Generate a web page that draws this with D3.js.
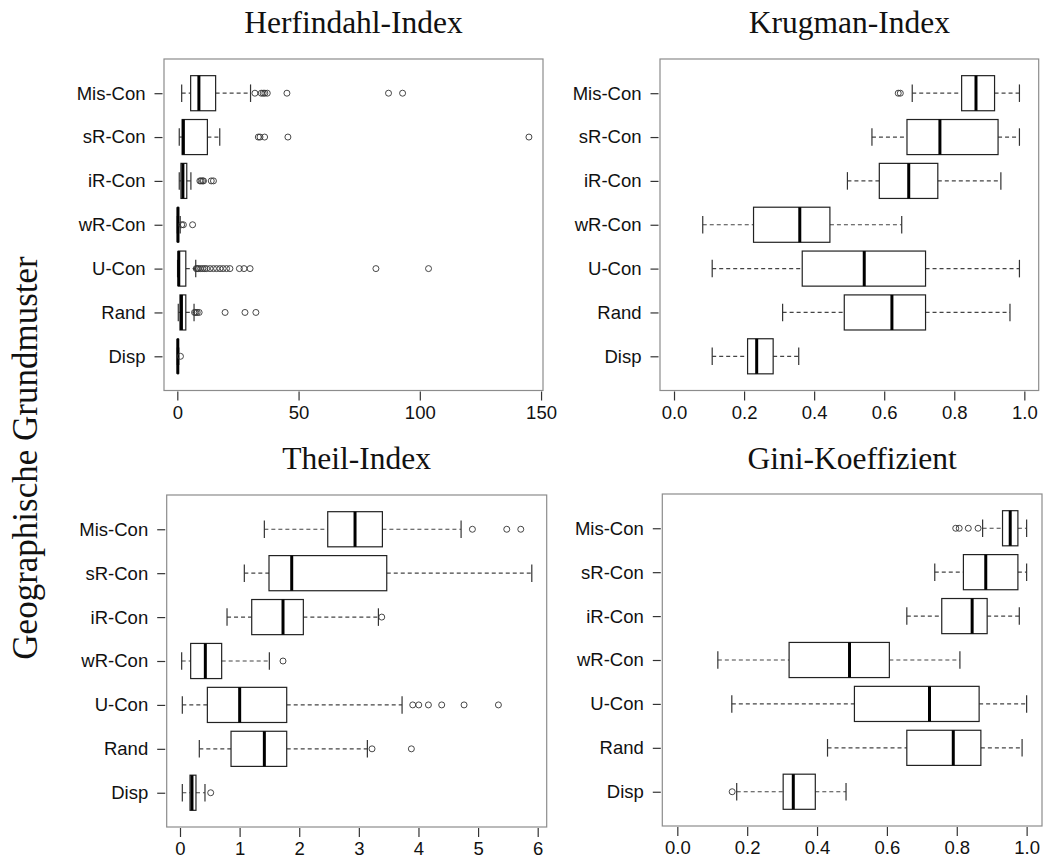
<!DOCTYPE html>
<html>
<head>
<meta charset="utf-8">
<script src="https://cdn.jsdelivr.net/npm/d3@7/dist/d3.min.js"></script>
<style>
  html, body { margin: 0; padding: 0; background: #fff; }
  svg { display: block; }
</style>
</head>
<body>
<svg id="chart" width="1043" height="860"></svg>
<script>
// Patterns, listed from top row to bottom row
const categories = ["Mis-Con", "sR-Con", "iR-Con", "wR-Con", "U-Con", "Rand", "Disp"];

// Five-number summaries per pattern: [lower whisker, Q1, median, Q3, upper whisker]
const herfindahlStats = [
  [1.8, 5.5, 8.9, 15.8, 30.2],
  [0.8, 2.0, 2.5, 12.4, 17.5],
  [0.8, 1.5, 2.3, 3.9, 5.6],
  [0.0, 0.1, 0.25, 0.5, 1.2],
  [0.1, 0.4, 0.6, 3.5, 7.6],
  [0.4, 1.1, 1.7, 3.5, 6.9],
  [0.0, 0.1, 0.2, 0.4, 0.6]
];
const herfindahlOutliers = [
  [32.0, 34.6, 35.4, 36.1, 37.1, 45.2, 87.1, 92.9],
  [33.4, 34.1, 36.0, 45.6, 145.0],
  [9.3, 9.8, 10.4, 10.8, 14.0, 14.9],
  [1.8, 2.5, 6.3],
  [7.8, 8.2, 8.8, 9.6, 10.5, 11.3, 12.1, 13.5, 14.9, 16.2, 17.6, 18.9, 20.3, 21.7, 25.6, 27.5, 30.0, 81.9, 103.6],
  [7.1, 7.6, 8.2, 9.0, 19.7, 27.9, 32.4],
  [1.3]
];

const krugmanStats = [
  [0.680, 0.821, 0.862, 0.915, 0.986],
  [0.565, 0.665, 0.759, 0.925, 0.986],
  [0.495, 0.586, 0.670, 0.753, 0.933],
  [0.082, 0.227, 0.359, 0.445, 0.650],
  [0.109, 0.366, 0.543, 0.718, 0.986],
  [0.310, 0.486, 0.622, 0.718, 0.959],
  [0.109, 0.210, 0.236, 0.283, 0.356]
];
const krugmanOutliers = [[0.640, 0.646], [], [], [], [], [], []];

const theilStats = [
  [1.415, 2.478, 2.936, 3.395, 4.715],
  [1.079, 1.493, 1.874, 3.468, 5.901],
  [0.789, 1.203, 1.728, 2.069, 3.328],
  [0.028, 0.179, 0.425, 0.699, 1.499],
  [0.039, 0.459, 1.001, 1.790, 3.725],
  [0.324, 0.856, 1.415, 1.790, 3.143],
  [0.039, 0.168, 0.201, 0.268, 0.419]
];
const theilOutliers = [
  [4.905, 5.481, 5.716],
  [],
  [3.384],
  [1.728],
  [3.904, 4.005, 4.167, 4.390, 4.765, 5.341],
  [3.221, 3.881],
  [0.515]
];

const giniStats = [
  [0.874, 0.931, 0.953, 0.975, 1.000],
  [0.737, 0.819, 0.883, 0.975, 1.000],
  [0.657, 0.757, 0.844, 0.887, 0.979],
  [0.116, 0.320, 0.493, 0.607, 0.809],
  [0.156, 0.507, 0.722, 0.864, 1.000],
  [0.430, 0.657, 0.790, 0.869, 0.987],
  [0.170, 0.303, 0.332, 0.395, 0.483]
];
const giniOutliers = [[0.797, 0.807, 0.833, 0.861], [], [], [], [], [], [0.157]];

// Axis tick values
const herfindahlTicks = [0, 50, 100, 150];
const krugmanTicks = [0, 0.2, 0.4, 0.6, 0.8, 1.0];
const theilTicks = [0, 1, 2, 3, 4, 5, 6];
const giniTicks = [0, 0.2, 0.4, 0.6, 0.8, 1.0];

const titles = ["Herfindahl-Index", "Krugman-Index", "Theil-Index", "Gini-Koeffizient"];
const yAxisTitle = "Geographische Grundmuster";

// Panel geometry and value domains
const panels = [
  { title: titles[0], stats: herfindahlStats, outliers: herfindahlOutliers, ticks: herfindahlTicks,
    fmt: d3.format("d"), domain: [-5.49, 150.8], left: 164, right: 543, top: 59, bottom: 390.5, titleY: 33 },
  { title: titles[1], stats: krugmanStats, outliers: krugmanOutliers, ticks: krugmanTicks,
    fmt: d3.format(".1f"), domain: [-0.040, 1.041], left: 660, right: 1038.7, top: 59, bottom: 390.5, titleY: 33 },
  { title: titles[2], stats: theilStats, outliers: theilOutliers, ticks: theilTicks,
    fmt: d3.format("d"), domain: [-0.223, 6.151], left: 166.7, right: 546.7, top: 495, bottom: 827, titleY: 469 },
  { title: titles[3], stats: giniStats, outliers: giniOutliers, ticks: giniTicks,
    fmt: d3.format(".1f"), domain: [-0.043, 1.044], left: 662.3, right: 1042, top: 494, bottom: 826, titleY: 469 }
];

const svg = d3.select("#chart");
const n = categories.length;
const serif = "'Liberation Serif', 'Times New Roman', serif";
const sans = "'Liberation Sans', Arial, sans-serif";

panels.forEach(p => {
  const x = d3.scaleLinear().domain(p.domain).range([p.left, p.right]);
  // row position: bottom row = 1, top row = n, with 4% padding like base boxplots
  const y = d3.scaleLinear().domain([0.22, n + 0.78]).range([p.bottom, p.top]);
  const pos = i => y(n - i);
  const halfH = y(0) - y(0.4);
  const staple = y(0) - y(0.2);

  const g = svg.append("g");

  // title
  g.append("text")
    .attr("x", (p.left + p.right) / 2)
    .attr("y", p.titleY)
    .attr("text-anchor", "middle")
    .attr("font-family", serif)
    .attr("font-size", 31.5)
    .attr("fill", "#111")
    .text(p.title);

  // frame
  g.append("rect")
    .attr("x", p.left).attr("y", p.top)
    .attr("width", p.right - p.left).attr("height", p.bottom - p.top)
    .attr("fill", "none").attr("stroke", "#8c8c8c").attr("stroke-width", 1.2);

  // x axis
  const xAxis = d3.axisBottom(x).tickValues(p.ticks).tickFormat(p.fmt).tickSize(9).tickPadding(5);
  const xa = g.append("g").attr("transform", `translate(0,${p.bottom + 1})`).call(xAxis);
  xa.select(".domain").remove();
  xa.selectAll(".tick line").attr("stroke", "#333").attr("stroke-width", 1.2);
  xa.selectAll(".tick text").attr("font-family", sans).attr("font-size", 18.5).attr("fill", "#111")
    .attr("dy", "0.71em");

  // y axis with pattern names
  const yBand = d3.scalePoint().domain(categories).range([pos(0), pos(n - 1)]);
  const yAxis = d3.axisLeft(yBand).tickSize(8).tickPadding(9);
  const ya = g.append("g").attr("transform", `translate(${p.left - 1.5},0)`).call(yAxis);
  ya.select(".domain").remove();
  ya.selectAll(".tick line").attr("stroke", "#333").attr("stroke-width", 1.2);
  ya.selectAll(".tick text").attr("font-family", sans).attr("font-size", 18.5).attr("fill", "#111");

  // boxes
  p.stats.forEach((s, i) => {
    const cy = pos(i);
    const [lo, q1, med, q3, hi] = s;
    const bg = g.append("g");
    // whiskers
    bg.append("line").attr("x1", x(lo)).attr("x2", x(q1)).attr("y1", cy).attr("y2", cy)
      .attr("stroke", "#444").attr("stroke-width", 1.2).attr("stroke-dasharray", "4,3");
    bg.append("line").attr("x1", x(q3)).attr("x2", x(hi)).attr("y1", cy).attr("y2", cy)
      .attr("stroke", "#444").attr("stroke-width", 1.2).attr("stroke-dasharray", "4,3");
    // staples
    [lo, hi].forEach(v => {
      bg.append("line").attr("x1", x(v)).attr("x2", x(v)).attr("y1", cy - staple).attr("y2", cy + staple)
        .attr("stroke", "#333").attr("stroke-width", 1.2);
    });
    // box
    bg.append("rect").attr("x", x(q1)).attr("y", cy - halfH)
      .attr("width", Math.max(0.5, x(q3) - x(q1))).attr("height", 2 * halfH)
      .attr("fill", "#fff").attr("stroke", "#222").attr("stroke-width", 1.2);
    // median
    bg.append("line").attr("x1", x(med)).attr("x2", x(med)).attr("y1", cy - halfH).attr("y2", cy + halfH)
      .attr("stroke", "#000").attr("stroke-width", 3);
    // outliers
    bg.selectAll("circle").data(p.outliers[i]).enter().append("circle")
      .attr("cx", d => x(d)).attr("cy", cy).attr("r", 3)
      .attr("fill", "none").attr("stroke", "#333").attr("stroke-width", 0.9);
  });
});

// shared vertical axis title
svg.append("text")
  .attr("transform", "translate(37,458) rotate(-90)")
  .attr("text-anchor", "middle")
  .attr("font-family", serif)
  .attr("font-size", 35)
  .attr("fill", "#111")
  .text(yAxisTitle);
</script>
</body>
</html>
